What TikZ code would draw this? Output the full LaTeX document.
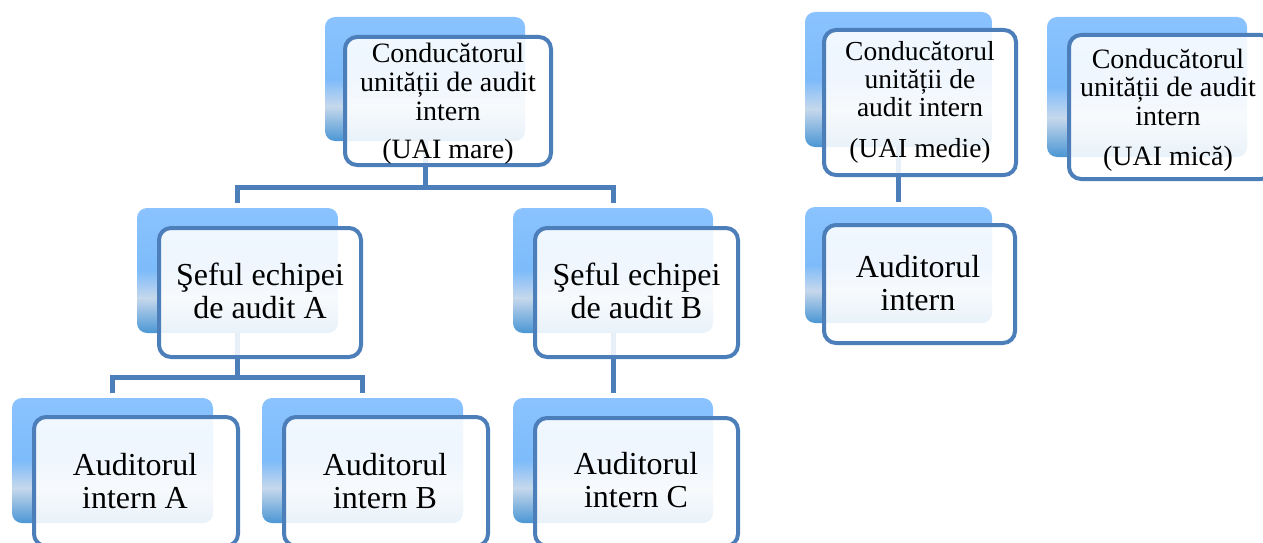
\documentclass[tikz,border=0pt]{standalone}
\usepackage{fontspec}
\setmainfont{Liberation Serif}

\definecolor{frameblue}{RGB}{76,126,186}
\definecolor{gradtop}{RGB}{138,195,255}
\definecolor{gradmid}{RGB}{125,187,250}
\definecolor{gradpale}{RGB}{198,216,236}
\definecolor{gradbot}{RGB}{74,150,212}

% light blue card behind each white sheet: blue on top, pale band, darker foot
\pgfdeclareverticalshading{cardshade}{100bp}{color(0bp)=(gradbot); color(25bp)=(gradbot); color(39bp)=(gradpale); color(50bp)=(gradmid); color(75bp)=(gradtop); color(100bp)=(gradtop)}

\pgfdeclarelayer{wires}
\pgfdeclarelayer{cards}
\pgfsetlayers{wires,cards,main}

\tikzset{
  card/.style={shade, shading=cardshade, rounded corners=10pt, inner sep=0pt, outer sep=0pt},
  sheet/.style={draw=frameblue, line width=4pt, fill=white, fill opacity=0.88, rounded corners=12pt, inner sep=0pt, outer sep=0pt},
  wire/.style={draw=frameblue, line width=5pt},
  headtxt/.style={align=center, inner sep=0pt, font=\fontsize{28}{29}\selectfont},
  midtxt/.style={align=center, inner sep=0pt, font=\fontsize{27.5}{27}\selectfont},
  smalltxt/.style={align=center, inner sep=0pt, font=\fontsize{28}{28.5}\selectfont},
  bigtxt/.style={align=center, inner sep=0pt, font=\fontsize{32}{33}\selectfont},
}

% \placebox{name}{style}{x1}{y1}{x2}{y2}: box spanning the given corners
\newcommand\placebox[6]{%
  \node[#2, minimum width={#5-#3}, minimum height={#6-#4}] (#1) at ({(#3+#5)/2},{(#4+#6)/2}) {};}

\begin{document}
\begin{tikzpicture}[x=1pt, y=-1pt]
\useasboundingbox (0,0) rectangle (1263,543);
\clip (0,0) rectangle (1263,543);

% blue cards
\begin{pgfonlayer}{cards}
\placebox{mareB}{card}{325}{17}{525}{141}
\placebox{medieB}{card}{805}{12}{992}{147}
\placebox{micaB}{card}{1047}{17}{1247}{157}
\placebox{sefAB}{card}{137}{208}{338}{333}
\placebox{sefBB}{card}{513}{208}{713}{333}
\placebox{audAB}{card}{12}{398}{213}{523}
\placebox{audBB}{card}{262}{398}{463}{523}
\placebox{audCB}{card}{513}{398}{713}{523}
\placebox{audMB}{card}{805}{207}{992}{323}
\end{pgfonlayer}

% white framed sheets
\placebox{mareF}{sheet}{345}{37}{551}{165}
\placebox{medieF}{sheet}{824}{30}{1016}{175}
\placebox{micaF}{sheet}{1069}{35}{1273}{179}
\placebox{sefAF}{sheet}{159}{228}{361}{357}
\placebox{sefBF}{sheet}{535}{228}{738}{357}
\placebox{audAF}{sheet}{34}{417}{238}{546}
\placebox{audBF}{sheet}{284}{417}{488}{546}
\placebox{audCF}{sheet}{535}{418}{738}{546}
\placebox{audMF}{sheet}{824}{225}{1015}{343}

% texts
\node[headtxt] (mareT) at (448,104.2) {\strut Conducătorul\\\strut unității de audit\\\strut intern\\[9pt]\strut (UAI mare)};
\node[midtxt] (medieT) at (920,103.6) {\strut Conducătorul\\\strut unității de\\\strut audit intern\\[13pt]\strut (UAI medie)};
\node[smalltxt] (micaT) at (1168,110.8) {\strut Conducătorul\\\strut unității de audit\\\strut intern\\[11.5pt]\strut (UAI mică)};
\node[bigtxt] (sefAT) at (260,294.9) {\strut Şeful echipei\\\strut de audit A};
\node[bigtxt] (sefBT) at (636.5,294.9) {\strut Şeful echipei\\\strut de audit B};
\node[bigtxt] (audAT) at (135,484.9) {\strut Auditorul\\\strut intern A};
\node[bigtxt] (audBT) at (385,484.9) {\strut Auditorul\\\strut intern B};
\node[bigtxt] (audCT) at (636,483.9) {\strut Auditorul\\\strut intern C};
\node[bigtxt] (audMT) at (918,286.9) {\strut Auditorul\\\strut intern};

% connectors
\coordinate (jTop) at (425,187);
\coordinate (jSefA) at (237.5,377.5);
\begin{pgfonlayer}{wires}
\draw[wire] (mareB.south) -- (jTop);
\draw[wire] ([yshift=5pt]sefAB.north) |- (jTop) -| ([yshift=5pt]sefBB.north);
\draw[wire] (sefAB.south) -- (jSefA);
\draw[wire] ([yshift=5pt]audAB.north) |- (jSefA) -| ([yshift=5pt]audBB.north);
\draw[wire] (sefBB.south) -- ([yshift=5pt]audCB.north);
\draw[wire] (medieB.south) -- ([yshift=5pt]audMB.north);
\end{pgfonlayer}
\end{tikzpicture}
\end{document}
